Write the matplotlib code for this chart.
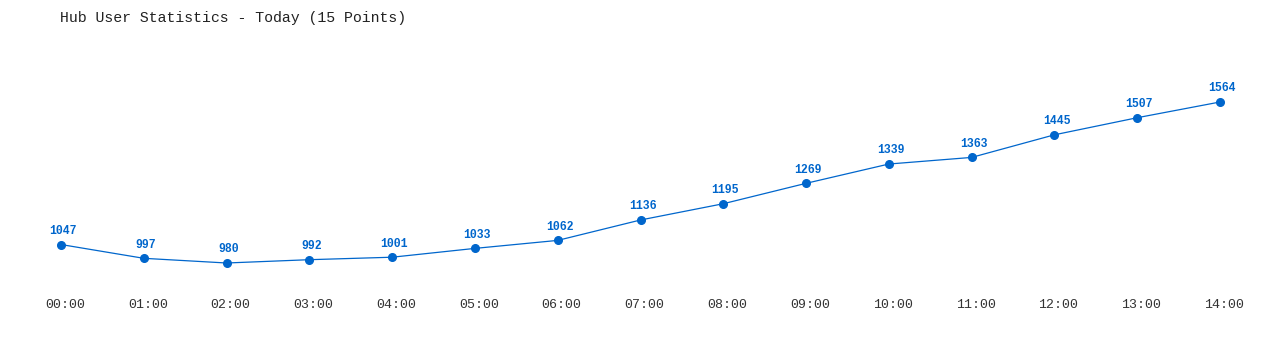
import matplotlib
matplotlib.use('Agg')
import matplotlib.pyplot as plt
import matplotlib.transforms as mtransforms

hours = ['00:00', '01:00', '02:00', '03:00', '04:00', '05:00', '06:00', '07:00',
         '08:00', '09:00', '10:00', '11:00', '12:00', '13:00', '14:00']
users = [1047, 997, 980, 992, 1001, 1033, 1062, 1136, 1195, 1269, 1339, 1363, 1445, 1507, 1564]
title = 'Hub User Statistics - Today (15 Points)'

blue = '#0066cc'
plt.rcParams['font.family'] = ['Liberation Mono', 'DejaVu Sans Mono']

fig = plt.figure(figsize=(12.8, 3.5), dpi=100, facecolor='white')
# axes box spans from first to last point, and min to max value
ax = fig.add_axes([61 / 1280, 1 - 263 / 350, (1220 - 61) / 1280, (263 - 102) / 350])
x = list(range(len(hours)))
ax.plot(x, users, color=blue, linewidth=0.9, marker='o', markersize=5.5, clip_on=False)
for xi, v in zip(x, users):
    ax.annotate(str(v), (xi, v), xytext=(1.5, 5.5), textcoords='offset points',
                ha='center', va='bottom', fontsize=8.3, fontweight='bold', color=blue)

ax.set_xlim(0, len(hours) - 1)
ax.set_ylim(min(users), max(users))
ax.set_xticks(x)
ax.set_xticklabels(hours, fontsize=9.5, color='#333333')
ax.tick_params(axis='x', length=0, pad=26)
# tick labels sit a few pixels right of the points in the original
shift = mtransforms.ScaledTranslation(4 / 100, 0, fig.dpi_scale_trans)
for lbl in ax.get_xticklabels():
    lbl.set_transform(lbl.get_transform() + shift)
ax.set_yticks([])
for s in ax.spines.values():
    s.set_visible(False)

fig.text(60 / 1280, 1 - 18 / 350, title, fontsize=10.7, color='#222222', va='center', ha='left')

fig.savefig('out.png', dpi=100, facecolor='white')
